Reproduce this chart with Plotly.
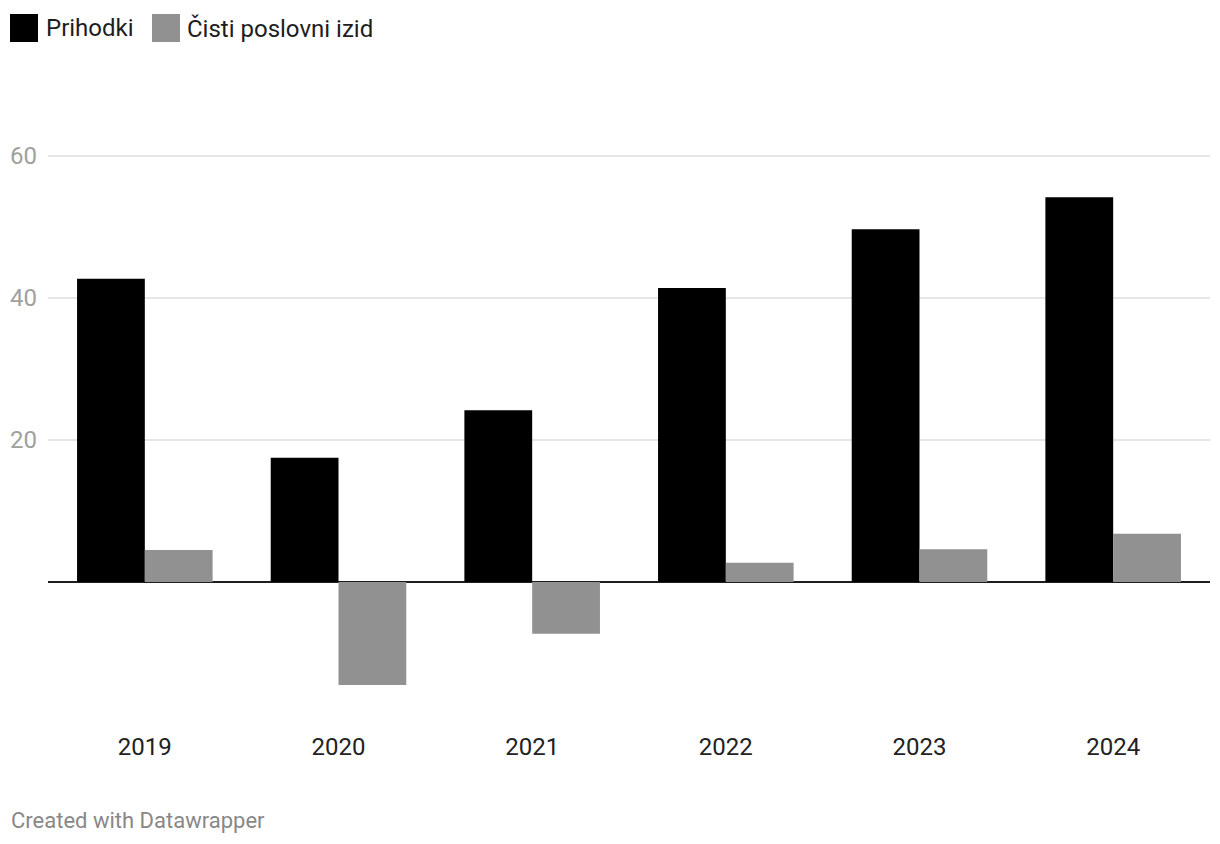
import plotly.graph_objects as go

years = ["2019", "2020", "2021", "2022", "2023", "2024"]
prihodki = [42.7, 17.5, 24.2, 41.4, 49.7, 54.2]
cisti = [4.5, -14.5, -7.3, 2.7, 4.6, 6.8]
series_names = ["Prihodki", "Čisti poslovni izid"]
y_ticks = [20, 40, 60]

FONT = "Roboto"
c_black = "#000000"
c_grey = "#919191"

# page has an 8px body offset; figure sized to fill the rest
W, H = 1212, 836
L, R, T, B = 40, 10, 77, 120
PW, PH = W - L - R, H - T - B


def px(x):
    return (x - 8 - L) / PW


def py(y):
    return (H - B - (y - 8)) / PH


fig = go.Figure()
fig.add_trace(go.Bar(x=years, y=prihodki, name=series_names[0], marker=dict(color=c_black, line=dict(width=0))))
fig.add_trace(go.Bar(x=years, y=cisti, name=series_names[1], marker=dict(color=c_grey, line=dict(width=0))))

fig.update_layout(
    width=W, height=H,
    paper_bgcolor="white", plot_bgcolor="white",
    barmode="group", bargap=0.3, bargroupgap=0,
    showlegend=False,
    margin=dict(l=L, r=R, t=T, b=B),
    font=dict(family=FONT),
    xaxis=dict(showgrid=False, showline=False, ticks="", automargin=False,
               tickfont=dict(size=24, color="#222222", family=FONT),
               ticklabelstandoff=6),
    yaxis=dict(range=[-20, 70], tickvals=y_ticks, showline=False, ticks="",
               automargin=False,
               gridcolor="#e6e6e6", gridwidth=1.5,
               zeroline=True, zerolinecolor="#1d1d1d", zerolinewidth=2,
               tickfont=dict(size=24, color="#a0a0a0", family=FONT),
               ticklabelstandoff=10),
)

# Legend (manual, Datawrapper style)
legend_items = [(series_names[0], c_black, 10, 44), (series_names[1], c_grey, 152, 185)]
for name, col, sx, tx in legend_items:
    fig.add_shape(type="rect", xref="paper", yref="paper",
                  x0=px(sx), x1=px(sx + 28), y0=py(42), y1=py(14),
                  fillcolor=col, line=dict(width=0))
    fig.add_annotation(text=name, xref="paper", yref="paper",
                       x=px(tx), y=py(28),
                       xanchor="left", yanchor="middle", showarrow=False,
                       font=dict(size=24, color="#1d1d1d", family=FONT))

fig.add_annotation(text="Created with Datawrapper", xref="paper", yref="paper",
                   x=px(9), y=py(820),
                   xanchor="left", yanchor="middle", showarrow=False,
                   font=dict(size=22, color="#888888", family=FONT))

fig.write_html("out.html")
